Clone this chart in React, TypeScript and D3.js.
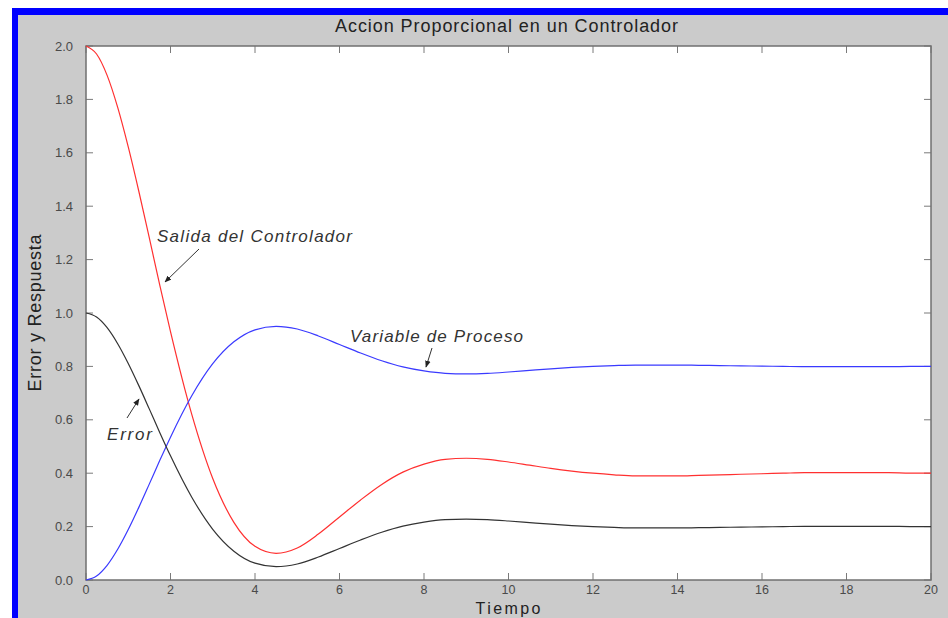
import React from "react";
import * as d3 from "d3";

// Sample times (s): finer spacing during the initial rise
const tiempo: number[] = [
  0, 0.25, 0.5, 0.75, 1, 1.25, 1.5, 1.75, 2, 2.5, 3, 3.5, 4, 4.5, 5, 5.5, 6,
  6.5, 7, 7.5, 8, 8.5, 9, 9.5, 10, 10.5, 11, 11.5, 12, 12.5, 13, 13.5, 14,
  14.5, 15, 15.5, 16, 16.5, 17, 17.5, 18, 18.5, 19, 19.5, 20,
];

// Process variable response
const variableProceso: number[] = [
  0.0, 0.015, 0.055, 0.115, 0.189, 0.272, 0.36, 0.449, 0.535, 0.689, 0.81,
  0.892, 0.937, 0.95, 0.94, 0.914, 0.882, 0.85, 0.821, 0.798, 0.783, 0.774,
  0.772, 0.774, 0.779, 0.785, 0.791, 0.796, 0.8, 0.803, 0.805, 0.805, 0.805,
  0.804, 0.803, 0.802, 0.801, 0.8, 0.799, 0.799, 0.799, 0.799, 0.799, 0.8,
  0.8,
];

// Error signal
const errorSerie: number[] = [
  1.0, 0.985, 0.945, 0.885, 0.811, 0.728, 0.64, 0.551, 0.465, 0.311, 0.19,
  0.108, 0.063, 0.05, 0.06, 0.086, 0.118, 0.15, 0.179, 0.202, 0.217, 0.226,
  0.228, 0.226, 0.221, 0.215, 0.209, 0.204, 0.2, 0.197, 0.195, 0.195, 0.195,
  0.196, 0.197, 0.198, 0.199, 0.2, 0.201, 0.201, 0.201, 0.201, 0.201, 0.2,
  0.2,
];

// Controller output
const salidaControlador: number[] = [
  2.0, 1.97, 1.89, 1.77, 1.622, 1.456, 1.28, 1.102, 0.93, 0.622, 0.38, 0.216,
  0.126, 0.1, 0.12, 0.172, 0.236, 0.3, 0.358, 0.404, 0.434, 0.452, 0.456,
  0.452, 0.442, 0.43, 0.418, 0.408, 0.4, 0.394, 0.39, 0.39, 0.39, 0.392,
  0.394, 0.396, 0.398, 0.4, 0.402, 0.402, 0.402, 0.402, 0.402, 0.4, 0.4,
];

const xTicks: number[] = [0, 2, 4, 6, 8, 10, 12, 14, 16, 18, 20];
const yTicks: number[] = [0, 0.2, 0.4, 0.6, 0.8, 1.0, 1.2, 1.4, 1.6, 1.8, 2.0];

const W = 948;
const H = 618;
const plot = { left: 86, top: 46, right: 931, bottom: 580 };

export default function App() {
  const x = d3.scaleLinear().domain([0, 20]).range([plot.left, plot.right]);
  const y = d3.scaleLinear().domain([0, 2]).range([plot.bottom, plot.top]);

  const line = (vals: number[]) =>
    d3
      .line<number>()
      .x((_, i) => x(tiempo[i]))
      .y((v) => y(v))
      .curve(d3.curveMonotoneX)(vals) || "";

  const font = "'Liberation Sans', Arial, Helvetica, sans-serif";
  const tickLen = 7;
  const tickColor = "#7a7a7a";
  const labelColor = "#4a4a4a";

  return (
    <svg
      width={W}
      height={H}
      style={{ position: "absolute", left: 0, top: 0, display: "block" }}
      fontFamily={font}
    >
      <defs>
        <marker
          id="flecha"
          viewBox="0 0 10 10"
          refX="9"
          refY="5"
          markerWidth="7"
          markerHeight="7"
          orient="auto"
        >
          <path d="M0,1 L10,5 L0,9 Z" fill="#222" />
        </marker>
      </defs>

      {/* window frame */}
      <rect x={0} y={0} width={W} height={H} fill="#ffffff" />
      <rect x={12} y={8} width={W - 12} height={H - 8} fill="#0000ff" />
      <rect x={18} y={15} width={W - 18} height={H - 15} fill="#cbcbcb" />

      {/* plot area */}
      <rect
        x={plot.left}
        y={plot.top}
        width={plot.right - plot.left}
        height={plot.bottom - plot.top}
        fill="#ffffff"
      />

      {/* ticks on all four sides, pointing inward */}
      {xTicks.map((t) => (
        <g key={"xt" + t}>
          <line x1={x(t)} x2={x(t)} y1={plot.bottom} y2={plot.bottom - tickLen} stroke={tickColor} strokeWidth={1} />
          <line x1={x(t)} x2={x(t)} y1={plot.top} y2={plot.top + tickLen} stroke={tickColor} strokeWidth={1} />
          <text x={x(t)} y={594} textAnchor="middle" fontSize={12.5} fill={labelColor}>
            {t}
          </text>
        </g>
      ))}
      {yTicks.map((v) => (
        <g key={"yt" + v}>
          <line x1={plot.left} x2={plot.left + tickLen} y1={y(v)} y2={y(v)} stroke={tickColor} strokeWidth={1} />
          <line x1={plot.right} x2={plot.right - tickLen} y1={y(v)} y2={y(v)} stroke={tickColor} strokeWidth={1} />
          <text x={73} y={y(v)} dy="0.35em" textAnchor="end" fontSize={13} fill={labelColor}>
            {v.toFixed(1)}
          </text>
        </g>
      ))}

      {/* axes box */}
      <rect
        x={plot.left}
        y={plot.top}
        width={plot.right - plot.left}
        height={plot.bottom - plot.top}
        fill="none"
        stroke="#707070"
        strokeWidth={1.5}
      />

      {/* series */}
      <path d={line(salidaControlador)} fill="none" stroke="#ff3030" strokeWidth={1.2} />
      <path d={line(variableProceso)} fill="none" stroke="#3a3aff" strokeWidth={1.2} />
      <path d={line(errorSerie)} fill="none" stroke="#333333" strokeWidth={1.2} />

      {/* annotations */}
      <text x={157} y={242} fontSize={17} fontStyle="italic" fill="#333" textLength={195} lengthAdjust="spacing">
        Salida del Controlador
      </text>
      <line x1={199} y1={249} x2={165} y2={282} stroke="#333" strokeWidth={1} markerEnd="url(#flecha)" />

      <text x={350} y={342} fontSize={17} fontStyle="italic" fill="#333" textLength={173} lengthAdjust="spacing">
        Variable de Proceso
      </text>
      <line x1={432} y1={348} x2={426} y2={367} stroke="#333" strokeWidth={1} markerEnd="url(#flecha)" />

      <text x={107} y={440} fontSize={17} fontStyle="italic" fill="#333" textLength={45} lengthAdjust="spacing">
        Error
      </text>
      <line x1={127} y1={418} x2={139} y2={399} stroke="#333" strokeWidth={1} markerEnd="url(#flecha)" />

      {/* title and axis labels */}
      <text x={506.5} y={32} textAnchor="middle" fontSize={18} fill="#222" textLength={343} lengthAdjust="spacing">
        Accion Proporcional en un Controlador
      </text>
      <text x={508} y={614} textAnchor="middle" fontSize={16} fill="#222" textLength={65} lengthAdjust="spacing">
        Tiempo
      </text>
      <text
        transform={`translate(41, ${(plot.top + plot.bottom) / 2}) rotate(-90)`}
        textAnchor="middle"
        fontSize={18}
        fill="#222"
        textLength={157}
        lengthAdjust="spacing"
      >
        Error y Respuesta
      </text>
    </svg>
  );
}
